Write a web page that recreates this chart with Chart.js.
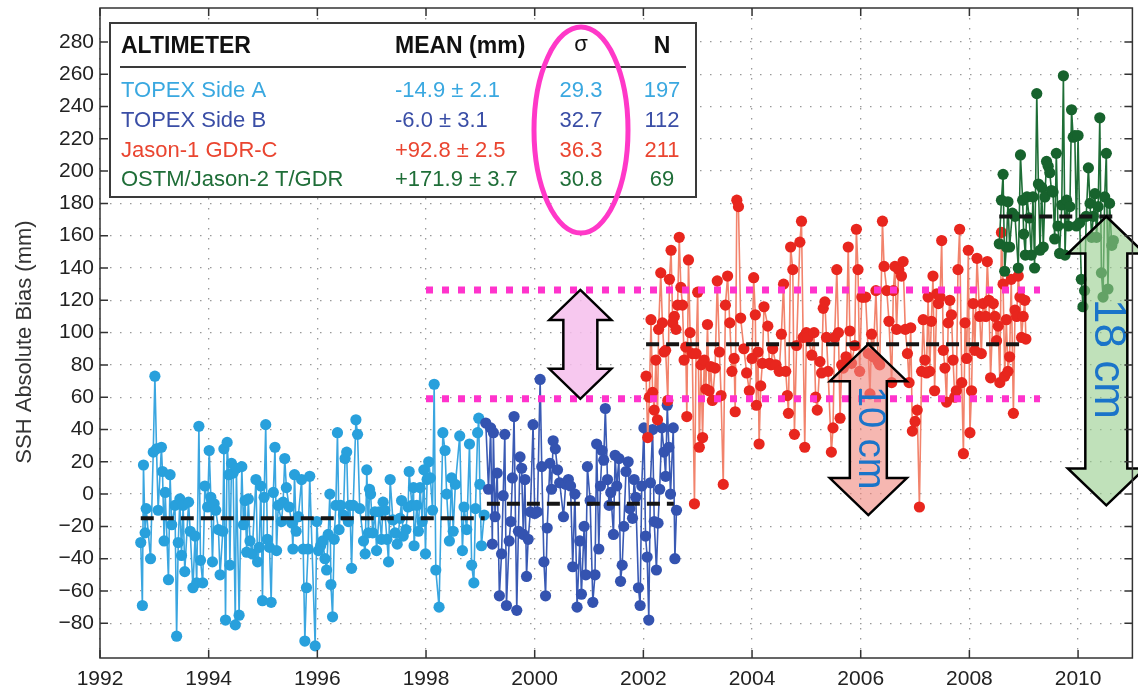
<!DOCTYPE html>
<html>
<head>
<meta charset="utf-8">
<script src="https://cdn.jsdelivr.net/npm/chart.js@4.4.1/dist/chart.umd.min.js"></script>
<style>
  body { margin: 0; background: #fff; }
  #wrap { width: 1138px; height: 691px; }
</style>
</head>
<body>
<div id="wrap"><canvas id="chart_ssh" width="1138" height="691"></canvas></div>
<script>
// ---- data ----
const sideAYear = [1992.75,1992.78,1992.80,1992.83,1992.85,1992.93,1992.98,1993.01,1993.04,1993.07,
  1993.13,1993.15,1993.18,1993.20,1993.26,1993.29,1993.32,1993.38,1993.41,1993.44,
  1993.47,1993.50,1993.53,1993.56,1993.63,1993.66,1993.71,1993.75,1993.78,1993.82,
  1993.85,1993.89,1993.93,1993.98,1994.01,1994.04,1994.07,1994.10,1994.13,1994.18,
  1994.21,1994.26,1994.28,1994.31,1994.34,1994.37,1994.39,1994.42,1994.45,1994.49,
  1994.51,1994.56,1994.61,1994.64,1994.67,1994.70,1994.73,1994.76,1994.80,1994.87,
  1994.90,1994.93,1994.96,1994.99,1995.02,1995.05,1995.08,1995.12,1995.15,1995.19,
  1995.22,1995.25,1995.28,1995.34,1995.37,1995.40,1995.43,1995.48,1995.53,1995.55,
  1995.58,1995.61,1995.65,1995.71,1995.74,1995.77,1995.80,1995.83,1995.86,
  1995.96,1995.99,1996.02,1996.06,1996.10,1996.14,1996.17,1996.20,1996.23,1996.25,
  1996.28,1996.31,1996.34,1996.37,1996.40,1996.43,1996.48,1996.51,1996.54,1996.57,
  1996.60,1996.63,1996.66,1996.71,1996.74,1996.78,1996.85,1996.88,1996.91,1996.94,
  1996.96,1996.98,1997.02,1997.06,1997.09,1997.14,1997.18,1997.21,1997.24,1997.28,
  1997.31,1997.34,1997.39,1997.43,1997.47,1997.52,1997.55,1997.58,1997.63,1997.67,
  1997.69,1997.74,1997.77,1997.78,1997.83,1997.86,1997.89,1997.93,1997.96,1997.99,
  1998.02,1998.05,1998.08,1998.12,1998.15,1998.18,1998.24,1998.31,1998.35,1998.38,
  1998.43,1998.47,1998.50,1998.54,1998.62,1998.67,1998.70,1998.75,1998.80,1998.84,
  1998.88,1998.91,1998.95,1998.97,1998.99,1999.02,1999.07];
const sideABias = [-30,-69,18,-24,-9,-40,26,73,28,-10,
  29,14,-29,1,-53,12,-19,-7,-88,-30,
  -3,-38,-7,-48,-5,-23,-58,-26,-55,42,
  -41,-55,5,-8,27,-2,-42,-6,-10,-22,
  -50,-23,28,-78,32,12,-44,19,13,-81,
  16,-75,17,-19,-4,-36,-3,-29,-37,9,
  -42,-33,5,-66,-2,43,-28,-33,-67,1,
  29,-35,-7,-17,-5,22,4,-8,-18,-34,
  12,-23,-14,9,-34,-91,-58,-34,11,
  -94,-17,-35,-32,-29,-40,-47,-25,0,-56,
  -76,-28,-7,38,-22,-7,-13,22,26,-17,
  -7,-46,-7,46,37,-9,-29,-37,15,-24,
  3,0,-24,-11,-35,-11,-28,-5,-10,-28,
  -42,9,-16,-24,-31,-15,-4,-26,-22,-8,
  14,-7,4,-32,-7,-23,4,-17,15,-37,
  9,20,10,-10,68,-47,-70,38,27,0,
  -29,10,-23,6,36,-35,-8,-22,31,-44,
  -55,-9,38,47,6,-32,-13];

const sideBYear = [1999.10,1999.15,1999.19,1999.22,1999.24,1999.27,1999.31,1999.35,1999.39,1999.42,
  1999.45,1999.48,1999.53,1999.56,1999.59,1999.62,1999.67,1999.70,1999.73,1999.76,
  1999.79,1999.82,1999.85,1999.88,1999.92,1999.97,2000.00,2000.05,2000.10,2000.13,
  2000.17,2000.20,2000.23,2000.28,2000.31,2000.34,2000.38,2000.42,2000.46,2000.53,
  2000.57,2000.62,2000.66,2000.70,2000.74,2000.78,2000.83,2000.86,2000.91,2000.94,
  2000.97,2001.02,2001.07,2001.11,2001.14,2001.18,2001.21,2001.24,2001.27,2001.30,
  2001.34,2001.37,2001.40,2001.45,2001.48,2001.51,2001.55,2001.58,2001.61,2001.64,
  2001.68,2001.72,2001.75,2001.80,2001.83,2001.86,2001.91,2001.94,2001.97,2002.01,
  2002.04,2002.07,2002.10,2002.13,2002.17,2002.20,2002.24,2002.27,2002.30,2002.34,
  2002.38,2002.41,2002.44,2002.47,2002.50,2002.55,2002.58,2002.61];
const sideBBias = [44,3,41,-31,38,-14,13,-63,-37,-1,
  37,-69,-29,-17,10,48,-72,-23,23,16,
  -25,9,-51,-28,-11,43,-12,-11,71,17,
  -42,-63,-21,19,3,33,28,15,7,-14,
  6,9,5,-45,0,-70,-29,-62,-20,-50,
  17,-4,-67,-50,31,-34,5,27,21,53,
  9,-7,1,-25,24,5,22,-54,-44,-20,
  14,20,-9,-15,9,-2,-58,-69,5,41,
  -26,-39,-78,7,40,-17,-47,-18,3,41,
  26,11,55,29,0,41,-40,-10];

const jason1Year = [2002.05,2002.08,2002.11,2002.14,2002.17,2002.20,2002.23,2002.26,2002.28,2002.32,
  2002.35,2002.38,2002.41,2002.45,2002.48,2002.51,2002.54,2002.57,2002.60,2002.63,
  2002.66,2002.69,2002.72,2002.75,2002.78,2002.80,2002.83,2002.86,2002.90,2002.94,
  2002.97,2003.00,2003.03,2003.06,2003.09,2003.12,2003.15,2003.18,2003.21,2003.24,
  2003.27,2003.32,2003.36,2003.40,2003.43,2003.47,2003.51,2003.55,2003.59,2003.63,
  2003.67,2003.69,2003.72,2003.75,2003.79,2003.85,2003.90,2003.95,2004.00,2004.03,
  2004.06,2004.08,2004.11,2004.13,2004.16,2004.19,2004.22,2004.29,2004.32,2004.35,
  2004.38,2004.44,2004.50,2004.54,2004.58,2004.62,2004.65,2004.67,2004.71,2004.75,
  2004.78,2004.82,2004.88,2004.91,2004.94,2004.97,2005.00,2005.03,2005.10,2005.14,
  2005.17,2005.20,2005.25,2005.28,2005.31,2005.34,2005.37,2005.40,2005.46,2005.49,
  2005.52,2005.56,2005.59,2005.62,2005.65,2005.68,2005.73,2005.77,2005.80,2005.83,
  2005.89,2005.92,2005.95,2005.98,2006.02,2006.05,2006.09,2006.14,2006.17,2006.20,
  2006.23,2006.28,2006.32,2006.35,2006.40,2006.43,2006.48,2006.52,2006.57,2006.60,
  2006.63,2006.66,2006.70,2006.75,2006.78,2006.82,2006.86,2006.89,2006.92,2006.95,
  2007.00,2007.04,2007.08,2007.12,2007.15,2007.18,2007.21,2007.24,2007.27,2007.30,
  2007.33,2007.36,2007.40,2007.43,2007.46,2007.49,2007.52,2007.55,2007.58,2007.61,
  2007.64,2007.67,2007.70,2007.73,2007.76,2007.79,2007.82,2007.86,2007.89,2007.92,
  2007.95,2007.98,2008.01,2008.04,2008.07,2008.10,2008.14,2008.19,2008.22,2008.25,
  2008.30,2008.33,2008.36,2008.39,2008.44,2008.47,2008.50,2008.53,2008.56,2008.59,
  2008.62,2008.65,2008.68,2008.71,2008.74,2008.77,2008.81,2008.84,2008.87,2008.90,
  2008.93,2008.96,2008.99,2009.02,2009.04];
const jason1Bias = [73,35,60,108,63,52,83,46,102,137,
  106,88,89,58,133,151,106,110,102,117,
  159,128,117,83,91,48,145,100,87,-6,
  87,125,29,80,35,83,65,105,64,79,
  58,78,132,88,61,6,117,135,106,76,
  84,51,182,178,109,90,75,64,84,134,
  111,55,88,31,67,81,116,104,81,80,
  90,80,76,99,130,76,61,50,153,139,
  37,92,156,169,97,29,100,97,86,100,
  60,52,82,75,115,119,97,76,26,41,
  97,139,100,47,80,78,85,153,101,81,
  92,164,139,76,122,122,122,87,62,99,
  85,126,82,80,169,141,126,107,69,126,
  141,102,139,135,144,102,87,69,103,39,
  45,52,-8,76,108,83,75,122,76,107,
  135,64,124,118,122,157,89,78,57,106,
  120,111,83,60,64,139,164,69,25,106,
  84,151,38,64,118,89,146,110,87,118,
  110,144,120,72,118,110,95,104,69,162,
  130,73,108,76,85,133,50,114,110,135,
  122,97,110,120,96];

const jason2Year = [2008.55,2008.59,2008.62,2008.65,2008.68,2008.71,2008.74,2008.79,2008.84,2008.90,
  2008.94,2008.98,2009.00,2009.03,2009.06,2009.10,2009.14,2009.17,2009.20,2009.24,
  2009.27,2009.30,2009.33,2009.36,2009.39,2009.42,2009.45,2009.48,2009.51,2009.54,
  2009.57,2009.60,2009.63,2009.66,2009.70,2009.73,2009.76,2009.79,2009.82,2009.85,
  2009.88,2009.91,2009.94,2009.97,2010.00,2010.03,2010.06,2010.09,2010.12,2010.15,
  2010.19,2010.22,2010.25,2010.28,2010.31,2010.34,2010.37,2010.40,2010.43,2010.46,
  2010.49,2010.52,2010.55,2010.58,2010.62,2010.65];
const jason2Bias = [155,182,198,138,153,181,153,174,172,140,
  210,182,161,148,184,171,148,184,140,248,
  192,151,190,153,184,206,203,199,188,187,
  158,211,166,149,179,259,148,182,166,178,
  238,221,222,166,222,168,133,116,126,172,
  202,180,159,172,186,159,178,233,137,122,
  184,211,127,180,154,157];

// mission means (dashed black) and their spans
const meanBias = [-14.9, -6.0, 92.8, 171.9];
const meanFrom = [1992.75, 1999.12, 2002.05, 2008.55];
const meanTo = [1999.08, 2002.56, 2008.99, 2010.65];

// magenta reference levels
const pinkLevels = [126.4, 59];
const pinkFrom = 1998.0;
const pinkTo = 2009.3;

// double arrows
const arrowYear = [2000.84, 2006.14, 2010.52];
const arrowTop = [126.4, 92.8, 171.9];
const arrowBottom = [59, -13, -7];
const arrowLabel = ["", "10 cm", "18 cm"];

// inset table
const altimeterNames = ["TOPEX Side A", "TOPEX Side B", "Jason-1 GDR-C", "OSTM/Jason-2 T/GDR"];
const meanText = ["-14.9 ± 2.1", "-6.0 ± 3.1", "+92.8 ± 2.5", "+171.9 ± 3.7"];
const sigmaText = ["29.3", "32.7", "36.3", "30.8"];
const countText = ["197", "112", "211", "69"];

const yearTicks = [1992, 1994, 1996, 1998, 2000, 2002, 2004, 2006, 2008, 2010];
const biasTicks = [-80, -60, -40, -20, 0, 20, 40, 60, 80, 100, 120, 140, 160, 180, 200, 220, 240, 260, 280];

// ---- styling ----
const fam = '"Liberation Sans", Arial, Helvetica, sans-serif';
const rowColors = ["#3aa8e0", "#3a4ea6", "#ea4530", "#1f6e38"];

function pts(xs, ys) {
  return xs.map((x, i) => ({ x: x, y: ys[i] }));
}

function series(label, xs, ys, line, dot, order) {
  return {
    label: label,
    data: pts(xs, ys),
    showLine: true,
    borderColor: line,
    borderWidth: 1.6,
    pointRadius: 5.6,
    pointBorderWidth: 0,
    pointBackgroundColor: dot,
    order: order,
  };
}

const datasets = [
  series("TOPEX Side A", sideAYear, sideABias, "#3aa6e0", "#28a0dc", 10),
  series("TOPEX Side B", sideBYear, sideBBias, "#3a5ab4", "#3453b0", 9),
  series("Jason-1 GDR-C", jason1Year, jason1Bias, "#f2836c", "#e8261e", 8),
  series("OSTM/Jason-2", jason2Year, jason2Bias, "#1e6e36", "#17632d", 7),
];

meanBias.forEach((m, i) => {
  datasets.push({
    data: [{ x: meanFrom[i], y: m }, { x: meanTo[i], y: m }],
    showLine: true,
    borderColor: "#151515",
    borderWidth: 4,
    borderDash: [13, 7],
    pointRadius: 0,
    order: 2,
  });
});

pinkLevels.forEach((lv) => {
  datasets.push({
    data: [{ x: pinkFrom, y: lv }, { x: pinkTo, y: lv }],
    showLine: true,
    borderColor: "#ff33cc",
    borderWidth: 7,
    borderDash: [7, 9],
    pointRadius: 0,
    order: 1,
  });
});

// frame, arrows, inset table and labels
const overlay = {
  id: "overlay",
  afterDatasetsDraw(chart) {
    const ctx = chart.ctx;
    const a = chart.chartArea;
    const xs = chart.scales.x;
    const ys = chart.scales.y;

    // double arrows
    const fills = ["rgba(246,190,236,0.85)", "rgba(240,135,125,0.6)", "rgba(150,205,140,0.6)"];
    const headW = [62, 77, 77], shaftW = [34, 37, 42], headH = [30, 37, 37];
    const fontPx = [0, 38, 44];
    arrowYear.forEach((yr, i) => {
      const cx = xs.getPixelForValue(yr);
      const t = ys.getPixelForValue(arrowTop[i]);
      const b = ys.getPixelForValue(arrowBottom[i]);
      const hw = headW[i] / 2, sw = shaftW[i] / 2, hh = headH[i];
      ctx.save();
      ctx.beginPath();
      ctx.moveTo(cx, t);
      ctx.lineTo(cx + hw, t + hh);
      ctx.lineTo(cx + sw, t + hh);
      ctx.lineTo(cx + sw, b - hh);
      ctx.lineTo(cx + hw, b - hh);
      ctx.lineTo(cx, b);
      ctx.lineTo(cx - hw, b - hh);
      ctx.lineTo(cx - sw, b - hh);
      ctx.lineTo(cx - sw, t + hh);
      ctx.lineTo(cx - hw, t + hh);
      ctx.closePath();
      ctx.fillStyle = fills[i];
      ctx.fill();
      ctx.lineWidth = 2.5;
      ctx.strokeStyle = "#000";
      ctx.lineJoin = "miter";
      ctx.stroke();
      if (arrowLabel[i]) {
        ctx.translate(cx + 1, (t + b) / 2 + (i === 1 ? 8 : -2));
        ctx.rotate(Math.PI / 2);
        ctx.fillStyle = "#1a74c9";
        ctx.font = fontPx[i] + "px " + fam;
        ctx.textAlign = "center";
        ctx.textBaseline = "middle";
        ctx.fillText(arrowLabel[i], 0, 0);
      }
      ctx.restore();
    });

    // axes box with inward ticks
    ctx.save();
    ctx.strokeStyle = "#333";
    ctx.lineWidth = 1.5;
    ctx.strokeRect(a.left, a.top, a.right - a.left, a.bottom - a.top);
    ctx.beginPath();
    yearTicks.forEach((v) => {
      const px = xs.getPixelForValue(v);
      ctx.moveTo(px, a.bottom); ctx.lineTo(px, a.bottom - 8);
      ctx.moveTo(px, a.top); ctx.lineTo(px, a.top + 8);
    });
    biasTicks.forEach((v) => {
      const py = ys.getPixelForValue(v);
      ctx.moveTo(a.left, py); ctx.lineTo(a.left + 8, py);
      ctx.moveTo(a.right, py); ctx.lineTo(a.right - 8, py);
    });
    ctx.stroke();
    ctx.restore();

    // inset table
    const L = a.left + 10, T = a.top + 15, W = 586, H = 174;
    ctx.save();
    ctx.fillStyle = "#fff";
    ctx.fillRect(L, T, W, H);
    ctx.lineWidth = 2;
    ctx.strokeStyle = "#3a3a3a";
    ctx.strokeRect(L, T, W, H);
    ctx.beginPath();
    ctx.moveTo(L + 10, T + 44);
    ctx.lineTo(L + W - 10, T + 44);
    ctx.stroke();
    const colName = L + 11, colMean = L + 285, colSig = L + 471, colN = L + 552;
    ctx.textBaseline = "alphabetic";
    ctx.fillStyle = "#111";
    ctx.font = "bold 23px " + fam;
    ctx.textAlign = "left";
    ctx.fillText("ALTIMETER", colName, T + 30);
    ctx.fillText("MEAN (mm)", colMean, T + 30);
    ctx.textAlign = "center";
    ctx.fillText("N", colN, T + 30);
    ctx.font = "22px " + fam;
    ctx.fillText("σ", colSig, T + 28);
    const rowBase = [74, 104, 134, 163];
    altimeterNames.forEach((nm, i) => {
      const y = T + rowBase[i];
      ctx.fillStyle = rowColors[i];
      ctx.font = "22px " + fam;
      ctx.textAlign = "left";
      ctx.fillText(nm, colName, y);
      ctx.fillText(meanText[i], colMean, y);
      ctx.textAlign = "center";
      ctx.fillText(sigmaText[i], colSig, y);
      ctx.fillText(countText[i], colN, y);
    });
    ctx.restore();

    // magenta ellipse around the sigma column
    ctx.save();
    ctx.beginPath();
    ctx.ellipse(L + 471, T + 107, 47, 103, 0, 0, Math.PI * 2);
    ctx.lineWidth = 5;
    ctx.strokeStyle = "#ff38c8";
    ctx.stroke();
    ctx.restore();

    // y axis title
    ctx.save();
    ctx.translate(25, (a.top + a.bottom) / 2 + 9);
    ctx.rotate(-Math.PI / 2);
    ctx.fillStyle = "#333";
    ctx.font = "22px " + fam;
    ctx.textAlign = "center";
    ctx.textBaseline = "middle";
    ctx.fillText("SSH Absolute Bias (mm)", 0, 0);
    ctx.restore();
  },
};

const ct_ssh = document.getElementById("chart_ssh");

const gridDots = { color: "#999", lineWidth: 1.3, drawTicks: false };

const config_ssh = {
  type: "scatter",
  data: { datasets: datasets },
  options: {
    responsive: false,
    animation: false,
    devicePixelRatio: 1,
    layout: { padding: { top: 8, right: 5, left: 0, bottom: 0 } },
    plugins: {
      legend: { display: false },
      tooltip: { enabled: false },
    },
    scales: {
      x: {
        type: "linear",
        min: 1992,
        max: 2011,
        afterBuildTicks: (s) => { s.ticks = yearTicks.map((v) => ({ value: v })); },
        afterFit: (s) => { s.height = 33; s.paddingLeft = 0; s.paddingRight = 0; },
        border: { display: false, dash: [1.5, 8.5] },
        grid: gridDots,
        ticks: {
          font: { size: 21, family: fam },
          color: "#222",
          padding: 9,
          maxRotation: 0,
          autoSkip: false,
          callback: (v) => String(v),
        },
      },
      y: {
        type: "linear",
        min: -101.5,
        max: 301,
        afterBuildTicks: (s) => { s.ticks = biasTicks.map((v) => ({ value: v })); },
        afterFit: (s) => { s.width = 100; s.paddingTop = 0; s.paddingBottom = 0; },
        border: { display: false, dash: [1.5, 8.5] },
        grid: gridDots,
        ticks: {
          font: { size: 21, family: fam },
          color: "#222",
          padding: 6,
          callback: (v) => (v < 0 ? "\u2212" + Math.abs(v) : String(v)),
        },
      },
    },
  },
  plugins: [overlay],
};

new Chart(ct_ssh, config_ssh);
</script>
</body>
</html>
